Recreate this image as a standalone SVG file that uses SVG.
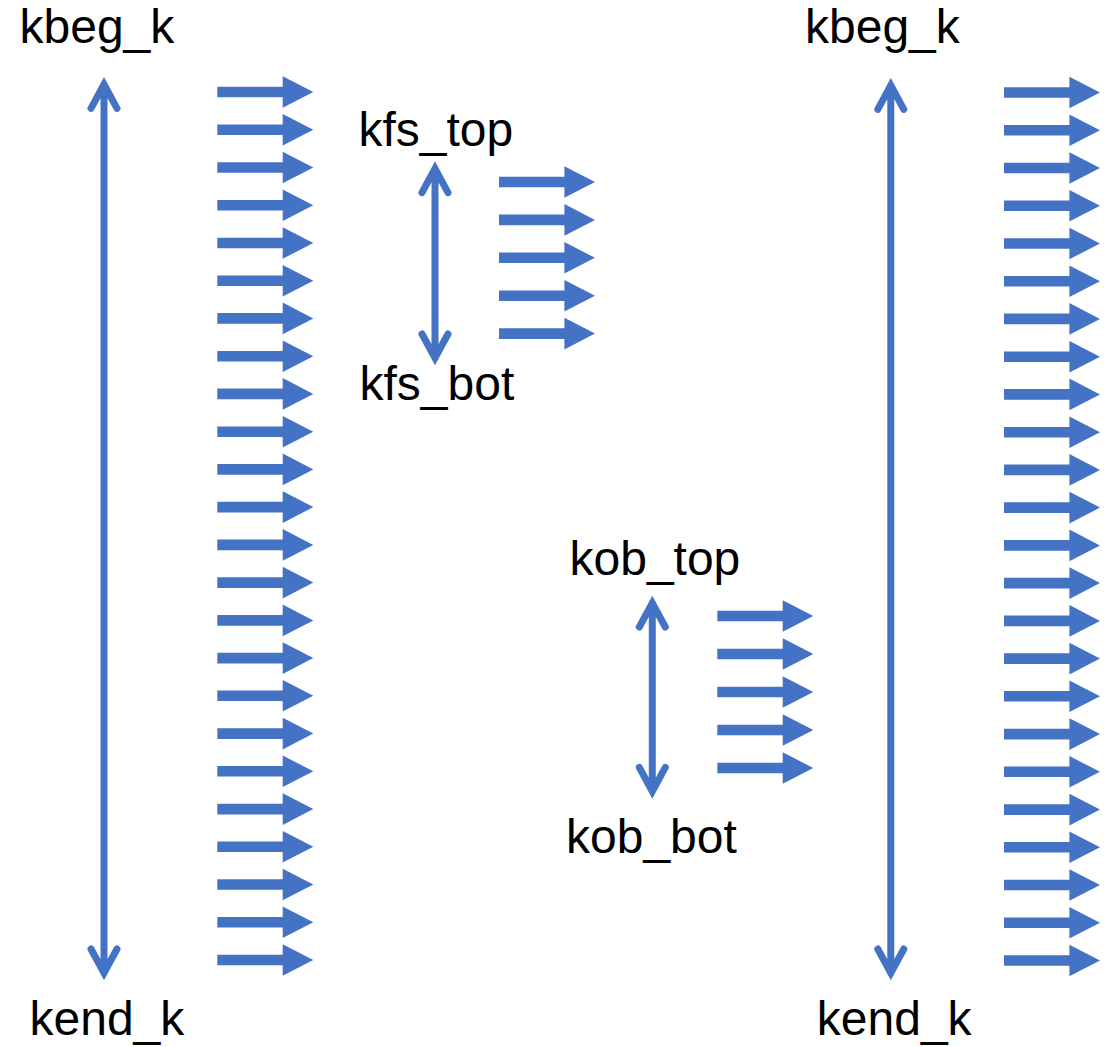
<svg xmlns="http://www.w3.org/2000/svg" xmlns:xlink="http://www.w3.org/1999/xlink" width="1112" height="1047" viewBox="0 0 1112 1047">
  <style>
    .lbl { font-family: "Liberation Sans", Arial, sans-serif; font-size: 48px; fill: #000; }
    .range { fill: none; stroke: #4472C4; stroke-width: 7; stroke-linecap: round; stroke-linejoin: miter; stroke-miterlimit: 10; }
    .flow { fill: #4472C4; }
  </style>
  <defs>
    <!-- block arrow pointing right, origin at the tail centre -->
    <path id="flow" d="M0,-5.3H65.4V-15.8L96,0L65.4,15.8V5.3H0Z"/>
  </defs>
  <rect width="1112" height="1047" fill="#fff"/>

  <!-- labels -->
  <g id="kbeg-left"><text class="lbl" x="19.5" y="43.3">kbeg_k</text></g>
  <g id="kend-left"><text class="lbl" x="29.5" y="1035">kend_k</text></g>
  <g id="kfs-top"><text class="lbl" x="358.5" y="146">kfs_top</text></g>
  <g id="kfs-bot"><text class="lbl" x="359.5" y="400">kfs_bot</text></g>
  <g id="kob-top"><text class="lbl" x="569.5" y="575">kob_top</text></g>
  <g id="kob-bot"><text class="lbl" x="566" y="853.3">kob_bot</text></g>
  <g id="kbeg-right"><text class="lbl" x="805" y="43.3">kbeg_k</text></g>
  <g id="kend-right"><text class="lbl" x="816.8" y="1035">kend_k</text></g>

  <!-- vertical ranges between the labels -->
  <g id="connectors" class="range">
    <path d="M104,84.3V973M91,108.3L104,84.3L117,108.3M91,949L104,973L117,949"/>
    <path d="M435,168.7V358M422,192.7L435,168.7L448,192.7M422,334L435,358L448,334"/>
    <path d="M652.3,603V791.3M639.3,627L652.3,603L665.3,627M639.3,767.3L652.3,791.3L665.3,767.3"/>
    <path d="M890.8,85.3V973M877.8,109.3L890.8,85.3L903.8,109.3M877.8,949L890.8,973L903.8,949"/>
  </g>

  <!-- flow arrows, full column on the left -->
  <g id="flow-left" class="flow">
    <use xlink:href="#flow" x="217.3" y="92"/>
    <use xlink:href="#flow" x="217.3" y="129.7"/>
    <use xlink:href="#flow" x="217.3" y="167.5"/>
    <use xlink:href="#flow" x="217.3" y="205.2"/>
    <use xlink:href="#flow" x="217.3" y="243"/>
    <use xlink:href="#flow" x="217.3" y="280.7"/>
    <use xlink:href="#flow" x="217.3" y="318.4"/>
    <use xlink:href="#flow" x="217.3" y="356.2"/>
    <use xlink:href="#flow" x="217.3" y="393.9"/>
    <use xlink:href="#flow" x="217.3" y="431.7"/>
    <use xlink:href="#flow" x="217.3" y="469.4"/>
    <use xlink:href="#flow" x="217.3" y="507.1"/>
    <use xlink:href="#flow" x="217.3" y="544.9"/>
    <use xlink:href="#flow" x="217.3" y="582.6"/>
    <use xlink:href="#flow" x="217.3" y="620.4"/>
    <use xlink:href="#flow" x="217.3" y="658.1"/>
    <use xlink:href="#flow" x="217.3" y="695.8"/>
    <use xlink:href="#flow" x="217.3" y="733.6"/>
    <use xlink:href="#flow" x="217.3" y="771.3"/>
    <use xlink:href="#flow" x="217.3" y="809.1"/>
    <use xlink:href="#flow" x="217.3" y="846.8"/>
    <use xlink:href="#flow" x="217.3" y="884.5"/>
    <use xlink:href="#flow" x="217.3" y="922.3"/>
    <use xlink:href="#flow" x="217.3" y="960"/>
  </g>

  <!-- flow arrows between kfs_top and kfs_bot -->
  <g id="flow-kfs" class="flow">
    <use xlink:href="#flow" x="499" y="182"/>
    <use xlink:href="#flow" x="499" y="219.9"/>
    <use xlink:href="#flow" x="499" y="257.8"/>
    <use xlink:href="#flow" x="499" y="295.7"/>
    <use xlink:href="#flow" x="499" y="333.6"/>
  </g>

  <!-- flow arrows between kob_top and kob_bot -->
  <g id="flow-kob" class="flow">
    <use xlink:href="#flow" x="717.3" y="616"/>
    <use xlink:href="#flow" x="717.3" y="654"/>
    <use xlink:href="#flow" x="717.3" y="692"/>
    <use xlink:href="#flow" x="717.3" y="730"/>
    <use xlink:href="#flow" x="717.3" y="768"/>
  </g>

  <!-- flow arrows, full column on the right -->
  <g id="flow-right" class="flow">
    <use xlink:href="#flow" x="1004" y="92.5"/>
    <use xlink:href="#flow" x="1004" y="130.2"/>
    <use xlink:href="#flow" x="1004" y="168"/>
    <use xlink:href="#flow" x="1004" y="205.7"/>
    <use xlink:href="#flow" x="1004" y="243.5"/>
    <use xlink:href="#flow" x="1004" y="281.2"/>
    <use xlink:href="#flow" x="1004" y="318.9"/>
    <use xlink:href="#flow" x="1004" y="356.7"/>
    <use xlink:href="#flow" x="1004" y="394.4"/>
    <use xlink:href="#flow" x="1004" y="432.2"/>
    <use xlink:href="#flow" x="1004" y="469.9"/>
    <use xlink:href="#flow" x="1004" y="507.6"/>
    <use xlink:href="#flow" x="1004" y="545.4"/>
    <use xlink:href="#flow" x="1004" y="583.1"/>
    <use xlink:href="#flow" x="1004" y="620.9"/>
    <use xlink:href="#flow" x="1004" y="658.6"/>
    <use xlink:href="#flow" x="1004" y="696.3"/>
    <use xlink:href="#flow" x="1004" y="734.1"/>
    <use xlink:href="#flow" x="1004" y="771.8"/>
    <use xlink:href="#flow" x="1004" y="809.6"/>
    <use xlink:href="#flow" x="1004" y="847.3"/>
    <use xlink:href="#flow" x="1004" y="885"/>
    <use xlink:href="#flow" x="1004" y="922.8"/>
    <use xlink:href="#flow" x="1004" y="960.5"/>
  </g>
</svg>
